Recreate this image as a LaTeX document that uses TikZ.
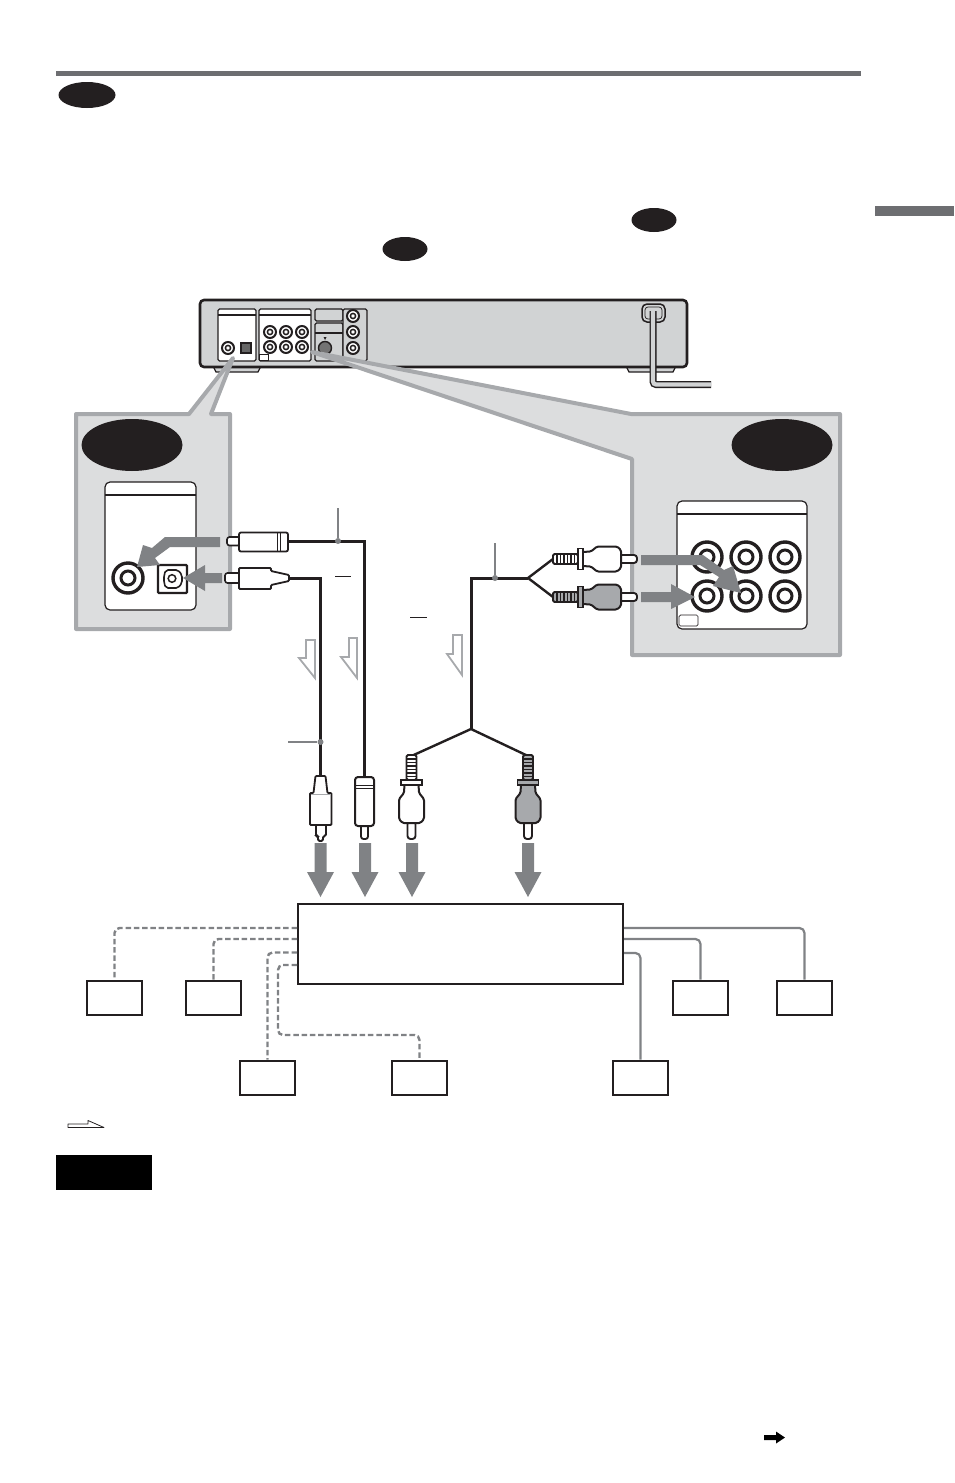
\documentclass[tikz,border=0pt]{standalone}
\usepackage{tikz}
\usetikzlibrary{shapes.geometric}
\definecolor{rulegray}{HTML}{6D6E71}
\definecolor{arrowgray}{HTML}{808285}
\definecolor{panelgray}{HTML}{DCDDDE}
\definecolor{edgegray}{HTML}{A7A9AC}
\definecolor{unitgray}{HTML}{D1D3D4}
\definecolor{inkblack}{HTML}{231F20}
\tikzset{
  oval/.style={ellipse,fill=inkblack,inner sep=0pt},
  jack/.style={circle,draw=inkblack,fill=white,line width=3.4pt,inner sep=0pt,minimum size=30pt,
    path picture={\draw[inkblack,line width=3pt] (path picture bounding box.center) circle (7);}},
  minijack/.style={circle,draw=inkblack,fill=white,line width=2pt,inner sep=0pt,minimum size=12pt,
    path picture={\draw[inkblack,line width=1.5pt] (path picture bounding box.center) circle (2.6);}},
  spkbox/.style={rectangle,draw=inkblack,fill=white,line width=2.7pt,inner sep=0pt,minimum width=55pt,minimum height=34pt},
  ampbox/.style={rectangle,draw=inkblack,fill=white,line width=2.3pt,inner sep=0pt,minimum width=325pt,minimum height=80pt},
  cable/.style={draw=inkblack,line width=3pt},
  forkline/.style={draw=inkblack,line width=2.4pt},
  leader/.style={draw=arrowgray,line width=1.3pt},
  tapdot/.style={circle,fill=arrowgray,inner sep=0pt,minimum size=6pt},
  dashline/.style={draw=arrowgray,line width=2.4pt,dash pattern=on 5.5pt off 2.8pt,rounded corners=5pt},
  solidline/.style={draw=arrowgray,line width=2.2pt,rounded corners=5pt},
  flow/.style={fill=white,draw=edgegray,line width=1.8pt,miter limit=4},
  pics/gripplug/.style={code={
    \draw[inkblack,fill=#1,line width=1.8pt,rounded corners=1.5pt] (0,-5) rectangle (25,5);
    \draw[inkblack,line width=1.4pt] (4,-5) -- (4,5) (7.5,-5) -- (7.5,5) (11,-5) -- (11,5) (14.5,-5) -- (14.5,5) (18,-5) -- (18,5) (21.5,-5) -- (21.5,5);
    \draw[inkblack,fill=white,line width=1.9pt,rounded corners=3pt] (66,-4) -- (84,-4) -- (84,4) -- (66,4) -- cycle;
    \draw[inkblack,fill=#1,line width=2pt,rounded corners=1.5pt] (29,-7) -- (38,-7.5) -- (44,-12.5) -- (64,-12.5) -- (68,-9) -- (68,9) -- (64,12.5) -- (44,12.5) -- (38,7.5) -- (29,7) -- cycle;
    \draw[inkblack,fill=#1,line width=1.8pt] (25,-10.5) rectangle (30,10.5);
  }},
}
\begin{document}
\begin{tikzpicture}[x=1pt,y=-1pt]
\useasboundingbox (0,0) rectangle (954,1483);
\fill[rulegray] (56,71) rectangle (861,76); % top rule
\fill[rulegray] (875,206) rectangle (954,216); % side tab
\node[oval,minimum width=57pt,minimum height=26pt] (tagTop) at (87,95) {};
\node[oval,minimum width=45pt,minimum height=24pt] (tagMidA) at (654,220) {};
\node[oval,minimum width=45pt,minimum height=24pt] (tagMidB) at (405,249) {};

% player
\draw[inkblack,fill=unitgray,line width=1.2pt] (213,366) -- (261,366) -- (258,372) -- (216,372) -- cycle; % footLeft
\draw[inkblack,fill=unitgray,line width=1.2pt] (626,366) -- (676,366) -- (673,372) -- (629,372) -- cycle; % footRight
\draw[inkblack,fill=unitgray,line width=2.6pt,rounded corners=4pt] (200,300) rectangle (687,367); % unit
\draw[inkblack,fill=white,line width=1.2pt,rounded corners=1.5pt] (218,309) rectangle (256,361); % bayDigital
\draw[inkblack,line width=1.2pt] (218,315) -- (256,315);
\draw[inkblack,fill=white,line width=1.2pt,rounded corners=1.5pt] (259,309) rectangle (311,361); % bayComponent
\draw[inkblack,line width=1.2pt] (259,315) -- (311,315);
\draw[inkblack,fill=white,line width=0.6pt] (259,354) rectangle (268,360);
\draw[inkblack,fill=unitgray,line width=1.2pt,rounded corners=1.5pt] (315,309) rectangle (343,321); % bayBlank
\draw[inkblack,fill=unitgray,line width=1.2pt,rounded corners=1.5pt] (315,323) rectangle (343,361); % baySvideo
\draw[inkblack,line width=1.2pt] (315,333) -- (343,333);
\draw[inkblack,fill=unitgray,line width=1.2pt,rounded corners=1.5pt] (343,309) rectangle (367,361); % bayAudio
\node[minijack] (unitJackA) at (228,348) {};
\node[draw=inkblack,fill=black!60,line width=1.4pt,inner sep=0pt,minimum size=10pt] (unitOpt) at (246,348) {};
\node[minijack] (unitJackB) at (270,332) {};
\node[minijack] (unitJackC) at (286,332) {};
\node[minijack] (unitJackD) at (302,332) {};
\node[minijack] (unitJackE) at (270,347) {};
\node[minijack] (unitJackF) at (286,347) {};
\node[minijack] (unitJackG) at (302,347) {};
\node[minijack] (unitJackH) at (353,316) {};
\node[minijack] (unitJackI) at (353,332) {};
\node[minijack] (unitJackJ) at (353,348) {};
\node[circle,draw=inkblack,fill=black!55,line width=1.4pt,inner sep=0pt,minimum size=13pt] (unitSvid) at (325,348) {};
\fill[inkblack] (323.5,337) -- (326.5,337) -- (325,340) -- cycle;
\draw[inkblack,line width=1.5pt,rounded corners=5pt] (642,304) rectangle (665,322); % cord clamp
\draw[inkblack,line width=0.7pt,rounded corners=3pt] (645,307) rectangle (662,319);
\draw[inkblack,line width=7pt,rounded corners=3pt] (653,311) -- (653,384.5) -- (711,384.5); % cord
\draw[unitgray,line width=4.2pt,rounded corners=3pt] (653,311) -- (653,384.5) -- (711,384.5);

% zoom panels
\draw[draw=edgegray,fill=panelgray,line width=4pt,line join=round] (76,414) -- (189,414) -- (233,358) -- (211,414) -- (230,414) -- (230,629) -- (76,629) -- cycle; % panelLeft
\draw[draw=edgegray,fill=panelgray,line width=4pt,line join=round] (312,352) -- (631,414) -- (840,414) -- (840,655) -- (632,655) -- (632,459) -- cycle; % panelRight
\node[oval,minimum width=101pt,minimum height=52pt] (tagLeft) at (132,445) {};
\node[oval,minimum width=101pt,minimum height=52pt] (tagRight) at (782,445) {};

% left inset
\draw[inkblack,fill=white,line width=1.2pt,rounded corners=5pt] (105,482) rectangle (196,610); % bayLeft
\draw[inkblack,line width=1.2pt] (105,495) -- (196,495);
\node[jack] (jackCoax) at (128,578) {};
\draw[inkblack,fill=white,line width=2.2pt,rounded corners=1pt] (158,565) rectangle (187,593); % jackOpt
\draw[inkblack,line width=1.6pt,rounded corners=2pt] (166,570) -- (178,570) -- (182,575) -- (182,583) -- (178,588) -- (166,588) -- (164,583) -- (164,575) -- cycle;
\draw[inkblack,line width=1.5pt] (172,578.5) circle (3.8);

% right inset
\draw[inkblack,fill=white,line width=1.2pt,rounded corners=5pt] (677,501) rectangle (807,629); % bayRight
\draw[inkblack,line width=1.6pt] (677,514) -- (807,514);
\node[jack] (jackA) at (707,557) {};
\node[jack] (jackB) at (746,557) {};
\node[jack] (jackC) at (785,557) {};
\node[jack] (jackD) at (707,596) {};
\node[jack] (jackE) at (746,596) {};
\node[jack] (jackF) at (785,596) {};
\draw[inkblack,fill=white,line width=0.7pt,rounded corners=1.5pt] (679,615) rectangle (698,626);

% arrows into the jacks
\fill[arrowgray] (220,537) -- (165,537) -- (152,548) -- (143,545) -- (137,567) -- (160,565) -- (155,558) -- (170,547) -- (220,547) -- cycle; % intoCoax
\fill[arrowgray] (222,573) -- (205,573) -- (205,565) -- (183,578) -- (205,591) -- (205,583) -- (222,583) -- cycle; % intoOpt
\fill[arrowgray] (641,555) -- (703,555) -- (724,570) -- (733,566) -- (741,593) -- (713,586) -- (719,577) -- (700,565) -- (641,565) -- cycle; % intoJackE
\fill[arrowgray] (641,592) -- (671,592) -- (671,584) -- (695,597) -- (671,609) -- (671,602) -- (641,602) -- cycle; % intoJackD

% cables
\coordinate (plugAend) at (289,578);
\coordinate (plugBend) at (288,541);
\coordinate (plugAdown) at (320.5,777);
\coordinate (plugBdown) at (364.5,778);
\coordinate (forkTop) at (528,578);
\coordinate (forkHigh) at (553,559);
\coordinate (forkLow) at (553,597);
\coordinate (forkBase) at (471,729);
\coordinate (forkLeft) at (411.5,756);
\coordinate (forkRight) at (528,756);
\draw[cable] (plugBend) -| (plugBdown);
\draw[cable] (plugAend) -| (plugAdown);
\draw[cable,line join=miter] (forkTop) -- (471,578) -- (forkBase);
\draw[forkline] (forkHigh) -- (forkTop) -- (forkLow);
\draw[forkline] (forkLeft) -- (forkBase) -- (forkRight);
\node[tapdot] (tapB) at (338,541) {};
\node[tapdot] (tapC) at (495,578) {};
\node[tapdot] (tapA) at (320.5,742) {};
\coordinate (leadB) at (338,508);
\coordinate (leadC) at (495,543);
\coordinate (leadA) at (288,742);
\draw[leader] (leadB) -- (tapB);
\draw[leader] (leadC) -- (tapC);
\draw[leader] (leadA) -- (tapA);
\draw[inkblack,line width=0.9pt] (335,576) -- (351,576); % minus
\draw[inkblack,line width=0.9pt] (410,617) -- (427,617); % minus

% signal flow marks
\draw[flow] (306,640) -- (315,640) -- (315,678) -- (299,658) -- (306,658) -- cycle;
\draw[flow] (349,638) -- (357,638) -- (357,678) -- (341,657) -- (349,657) -- cycle;
\draw[flow] (453,635) -- (462,635) -- (462,675) -- (447,654) -- (453,654) -- cycle;

% horizontal plugs
\draw[inkblack,fill=white,line width=1.6pt,rounded corners=2.5pt] (240,537) -- (227,537) -- (227,545.5) -- (240,545.5) -- cycle; % plugB tip
\draw[inkblack,fill=white,line width=1.8pt,rounded corners=2pt] (239,532.5) rectangle (288,551.5); % plugB
\draw[inkblack,line width=0.8pt] (277,533) -- (277,551) (280,533) -- (280,551);
\draw[inkblack,fill=white,line width=1.6pt,rounded corners=2.5pt] (240,573) -- (225,573) -- (225,583) -- (240,583) -- cycle; % plugA tip
\draw[inkblack,fill=white,line width=1.8pt,rounded corners=1pt] (239,568) -- (271,568) -- (271,571) -- (289,575) -- (289,581) -- (271,585) -- (271,589) -- (239,589) -- cycle; % plugA
\pic at (553,559) {gripplug=white};
\pic at (553,597) {gripplug=edgegray};

% vertical plugs
\draw[inkblack,fill=white,line width=1.8pt,rounded corners=1.5pt] (316,824) -- (316,836) -- (318,836) -- (318,841) -- (323,841) -- (323,836) -- (326,836) -- (326,824) -- cycle; % plugA tip
\draw[inkblack,fill=white,line width=1.8pt,rounded corners=1pt] (315.5,776) -- (325.5,776) -- (327.5,793) -- (331.5,793) -- (331.5,825) -- (310,825) -- (310,793) -- (313.5,793) -- cycle; % plugA
\draw[edgegray,line width=1pt] (311,794) -- (331,794);
\draw[inkblack,fill=white,line width=1.8pt,rounded corners=2.5pt] (361,824) -- (361,839) -- (368,839) -- (368,824) -- cycle; % plugB tip
\draw[inkblack,fill=white,line width=2pt,rounded corners=3pt] (355,777) rectangle (374,826); % plugB
\draw[inkblack,line width=0.8pt] (355,785) -- (374,785) (355,788) -- (374,788);
\pic[rotate=-90] at (411.5,755) {gripplug=white};
\pic[rotate=-90] at (528,755) {gripplug=edgegray};

% arrows into the amplifier
\fill[arrowgray] (314.5,843) -- (326.5,843) -- (326.5,872) -- (334,872) -- (320.5,897) -- (307,872) -- (314.5,872) -- cycle; % intoAmpA
\fill[arrowgray] (359,843) -- (371,843) -- (371,872) -- (378.5,872) -- (365,897) -- (351.5,872) -- (359,872) -- cycle; % intoAmpB
\fill[arrowgray] (406,843) -- (418,843) -- (418,872) -- (425.5,872) -- (412,897) -- (398.5,872) -- (406,872) -- cycle; % intoAmpC
\fill[arrowgray] (522,843) -- (534,843) -- (534,872) -- (541.5,872) -- (528,897) -- (514.5,872) -- (522,872) -- cycle; % intoAmpD

% amplifier and speakers
\node[ampbox] (amp) at (460.5,944) {};
\node[spkbox] (spkA) at (114.5,998) {};
\node[spkbox] (spkB) at (213.5,998) {};
\node[spkbox] (spkC) at (267.5,1078) {};
\node[spkbox] (spkD) at (419.5,1078) {};
\node[spkbox] (spkE) at (700.5,998) {};
\node[spkbox] (spkF) at (804.5,998) {};
\node[spkbox] (spkG) at (640.5,1078) {};
\coordinate (ampWestA) at (297,928);
\coordinate (ampWestB) at (297,939);
\coordinate (ampWestC) at (297,952.5);
\coordinate (ampWestD) at (297,965);
\coordinate (bendD) at (278,1035);
\coordinate (ampEastA) at (624,928);
\coordinate (ampEastB) at (624,939);
\coordinate (ampEastC) at (624,953);
\draw[dashline] (ampWestA) -| (spkA.north);
\draw[dashline] (ampWestB) -| (spkB.north);
\draw[dashline] (ampWestC) -| (spkC.north);
\draw[dashline] (ampWestD) -| (bendD) -| (spkD.north);
\draw[solidline] (ampEastA) -| (spkF.north);
\draw[solidline] (ampEastB) -| (spkE.north);
\draw[solidline] (ampEastC) -| (spkG.north);

% legend and footer
\draw[inkblack,fill=white,line width=0.8pt,line join=round] (68,1124) -- (88,1124) -- (88,1120.5) -- (104,1127.5) -- (68,1127.5) -- cycle;
\fill[black] (56,1155) rectangle (152,1190); % noteBar
\fill[black] (764,1435) -- (776,1435) -- (776,1431.5) -- (785,1437.5) -- (776,1443.5) -- (776,1440) -- (764,1440) -- cycle;
\end{tikzpicture}
\end{document}
